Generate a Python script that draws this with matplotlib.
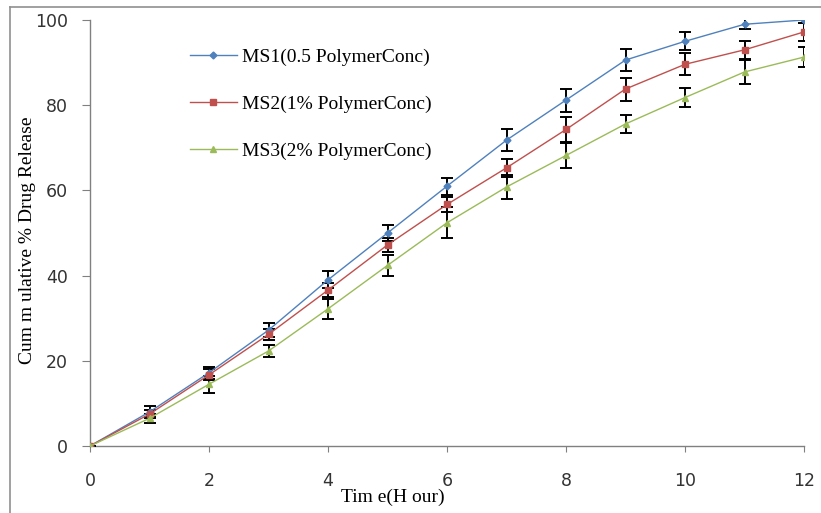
import matplotlib
matplotlib.use("Agg")
import matplotlib.pyplot as plt
from matplotlib.lines import Line2D

time = [0, 1, 2, 3, 4, 5, 6, 7, 8, 9, 10, 11, 12]
ms1 = [0, 8.0, 17.2, 27.2, 39.0, 50.0, 61.0, 71.8, 81.2, 90.6, 95.0, 99.0, 100.0]
ms1_err = [0, 1.3, 1.4, 1.6, 2.0, 1.9, 2.0, 2.6, 2.7, 2.5, 2.1, 1.2, 0.8]
ms2 = [0, 7.5, 16.7, 26.2, 36.6, 47.2, 56.7, 65.3, 74.3, 83.8, 89.6, 93.0, 97.2]
ms2_err = [0, 1.0, 1.3, 1.3, 1.6, 1.6, 1.7, 2.1, 3.0, 2.7, 2.6, 2.1, 2.2]
ms3 = [0, 6.5, 14.5, 22.3, 32.2, 42.4, 52.4, 60.8, 68.2, 75.6, 81.8, 87.8, 91.3]
ms3_err = [0, 1.0, 2.0, 1.4, 2.3, 2.4, 3.6, 2.9, 3.0, 2.1, 2.2, 2.8, 2.4]
labels = ["MS1(0.5 PolymerConc)", "MS2(1% PolymerConc)", "MS3(2% PolymerConc)"]
colors = ["#4F81BD", "#C0504D", "#9BBB59"]
markers = ["D", "s", "^"]
msizes = [3.5, 5, 5]

fig = plt.figure(figsize=(8.21, 5.13), dpi=100)
ax = fig.add_axes([90/821, 1-446/513, (804-90)/821, (446-20)/513])

series = [(ms1, ms1_err), (ms2, ms2_err), (ms3, ms3_err)]
handles = []
for (y, e), lab, c, m, ms in zip(series, labels, colors, markers, msizes):
    ax.errorbar(time, y, yerr=e, fmt='none', ecolor='black', elinewidth=1.4,
                capsize=4.5, capthick=1.4, zorder=3)
    ax.plot(time, y, color=c, lw=1.0, marker=m, markersize=ms, zorder=4)
    handles.append(Line2D([0], [0], color=c, lw=1.0, marker=m, markersize=ms))

ax.set_xlim(0, 12)
ax.set_ylim(0, 100)
ax.set_xticks(range(0, 13, 2))
ax.set_yticks(range(0, 101, 20))
for s in ['top', 'right']:
    ax.spines[s].set_visible(False)
for s in ['left', 'bottom']:
    ax.spines[s].set_color('#808080')
    ax.spines[s].set_linewidth(1.0)
ax.tick_params(axis='y', direction='out', length=6, color='#808080', labelsize=12.5,
               labelcolor='#333333', pad=10)
ax.tick_params(axis='x', direction='out', length=4, color='#808080', labelsize=12.5,
               labelcolor='#333333', pad=15)

ax.set_xlabel("Tim e(H our)", family="Liberation Serif", fontsize=14)
ax.xaxis.set_label_coords(0.424, -0.101)
ax.set_ylabel("Cum m ulative % Drug Release", family="Liberation Serif", fontsize=14,
              va='center')
ax.yaxis.set_label_coords(-0.088, 0.4836)

leg = ax.legend(handles, labels, loc='upper left', bbox_to_anchor=(0.129, 0.952),
                borderaxespad=0, frameon=False,
                prop={'family': 'Liberation Serif', 'size': 14},
                labelspacing=1.5, handlelength=2.4, handletextpad=0.28)

fig.add_artist(Line2D([10/821, 10/821], [0, 1-7/513], color='#909090', lw=1.2,
                      transform=fig.transFigure))
fig.add_artist(Line2D([10/821, 1], [1-7/513, 1-7/513], color='#909090', lw=1.2,
                      transform=fig.transFigure))

fig.savefig("out.png", dpi=100)
